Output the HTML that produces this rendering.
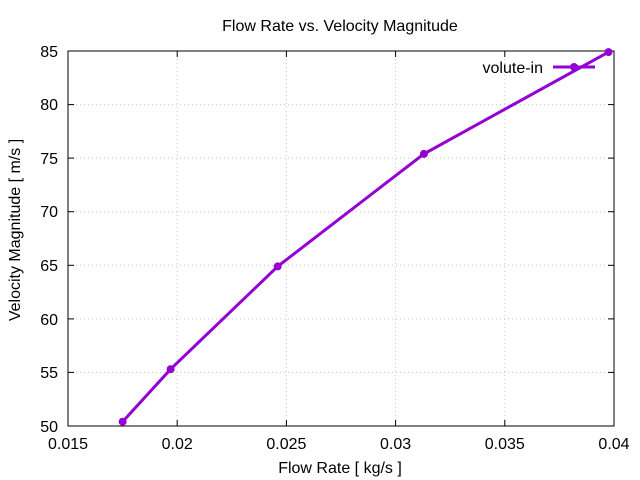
<!DOCTYPE html>
<html><head><style>body{margin:0;background:#fff}svg{display:block}text{font-family:"Liberation Sans",sans-serif;font-size:16px;fill:#000}</style></head><body>
<svg width="640" height="480" xmlns="http://www.w3.org/2000/svg">
<g stroke="#c8c8c8" stroke-width="1" stroke-dasharray="1,3">
<line x1="68" y1="372.4" x2="614" y2="372.4"/><line x1="68" y1="318.9" x2="614" y2="318.9"/><line x1="68" y1="265.3" x2="614" y2="265.3"/><line x1="68" y1="211.7" x2="614" y2="211.7"/><line x1="68" y1="158.1" x2="614" y2="158.1"/><line x1="68" y1="104.6" x2="614" y2="104.6"/>
<line x1="177.2" y1="51" x2="177.2" y2="426"/><line x1="286.4" y1="51" x2="286.4" y2="426"/><line x1="395.6" y1="51" x2="395.6" y2="426"/><line x1="504.8" y1="51" x2="504.8" y2="426"/>
</g>
<rect x="68" y="51" width="546" height="375" fill="none" stroke="#000" stroke-width="1"/>
<g stroke="#000">
<line x1="68" y1="372.4" x2="74" y2="372.4"/><line x1="68" y1="318.9" x2="74" y2="318.9"/><line x1="68" y1="265.3" x2="74" y2="265.3"/><line x1="68" y1="211.7" x2="74" y2="211.7"/><line x1="68" y1="158.1" x2="74" y2="158.1"/><line x1="68" y1="104.6" x2="74" y2="104.6"/>
<line x1="614" y1="372.4" x2="608" y2="372.4"/><line x1="614" y1="318.9" x2="608" y2="318.9"/><line x1="614" y1="265.3" x2="608" y2="265.3"/><line x1="614" y1="211.7" x2="608" y2="211.7"/><line x1="614" y1="158.1" x2="608" y2="158.1"/><line x1="614" y1="104.6" x2="608" y2="104.6"/>
<line x1="177.2" y1="426" x2="177.2" y2="420"/><line x1="286.4" y1="426" x2="286.4" y2="420"/><line x1="395.6" y1="426" x2="395.6" y2="420"/><line x1="504.8" y1="426" x2="504.8" y2="420"/>
<line x1="177.2" y1="51" x2="177.2" y2="57"/><line x1="286.4" y1="51" x2="286.4" y2="57"/><line x1="395.6" y1="51" x2="395.6" y2="57"/><line x1="504.8" y1="51" x2="504.8" y2="57"/>
</g>
<g text-anchor="end">
<text x="58" y="432">50</text><text x="58" y="378">55</text><text x="58" y="325">60</text><text x="58" y="271">65</text><text x="58" y="217">70</text><text x="58" y="164">75</text><text x="58" y="110">80</text><text x="58" y="57">85</text>
</g>
<g text-anchor="middle">
<text x="68" y="449">0.015</text><text x="177.2" y="449">0.02</text><text x="286.4" y="449">0.025</text><text x="395.6" y="449">0.03</text><text x="504.8" y="449">0.035</text><text x="614" y="449">0.04</text>
<text x="340" y="473">Flow Rate [ kg/s ]</text>
<text x="340" y="31">Flow Rate vs. Velocity Magnitude</text>
<text transform="translate(20,230) rotate(-90)">Velocity Magnitude [ m/s ]</text>
</g>
<text x="543" y="73" text-anchor="end">volute-in</text>
<g stroke="#9400d3" stroke-width="3" fill="none">
<polyline points="122.6,421.7 170.6,369.2 277.7,266.4 423.9,153.9 608.5,52.1"/>
<line x1="553" y1="67" x2="595" y2="67"/>
</g>
<g fill="#9400d3">
<circle cx="122.6" cy="421.7" r="4"/><circle cx="170.6" cy="369.2" r="4"/><circle cx="277.7" cy="266.4" r="4"/><circle cx="423.9" cy="153.9" r="4"/><circle cx="608.5" cy="52.1" r="4"/><circle cx="574" cy="67" r="4"/>
</g>
</svg>
</body></html>
